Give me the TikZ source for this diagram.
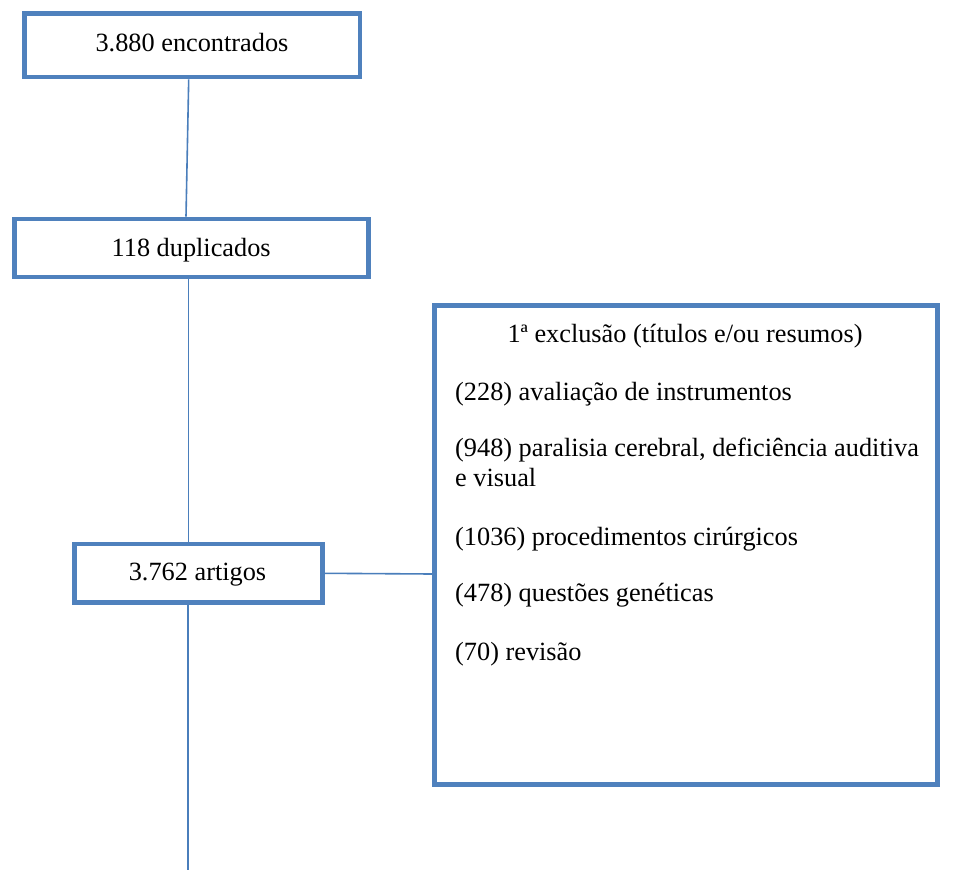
\documentclass[tikz,border=0pt]{standalone}
\usepackage{fontspec}
\setmainfont{Liberation Serif}
\definecolor{boxblue}{HTML}{4F81BD}
\definecolor{lineblue}{HTML}{4A7EBB}
\begin{document}
\begin{tikzpicture}[x=1pt,y=-1pt,
  flowbox/.style={draw=boxblue, line width=4.7pt, fill=white, inner sep=0pt, font=\fontsize{26.3}{30}\selectfont},
  conn/.style={draw=lineblue, line width=1.6pt},
  txt/.style={inner sep=0pt, font=\fontsize{26.3}{30}\selectfont}]
\useasboundingbox (0,0) rectangle (964,870);
\fill[white] (0,0) rectangle (964,870);
% boxes
\node[flowbox, minimum width=335.5pt, minimum height=63.3pt] (b1) at (192.3,45.3) {};
\node[flowbox, minimum width=354pt, minimum height=58pt] (b2) at (191.3,248) {};
\node[flowbox, minimum width=248.4pt, minimum height=58.7pt] (b3) at (198.5,573.3) {};
\node[flowbox, minimum width=503.4pt, minimum height=478.6pt] (big) at (686,545) {};
% texts
\node[txt, anchor=base] (t1) at (192,51.7) {3.880 encontrados};
\node[txt, anchor=base] (t2) at (191.2,256) {118 duplicados};
\node[txt, anchor=base] (t3) at (197.5,580.7) {3.762 artigos};
\node[txt, anchor=base] (h) at (685,342.7) {1ª exclusão (títulos e/ou resumos)};
\node[txt, anchor=base west] (e1) at (455,400) {(228) avaliação de instrumentos};
\node[txt, anchor=base west] (e2) at (455,456.7) {(948) paralisia cerebral, deficiência auditiva};
\node[txt, anchor=base west] (e2b) at (455,486.7) {e visual};
\node[txt, anchor=base west] (e3) at (455,545) {(1036) procedimentos cirúrgicos};
\node[txt, anchor=base west] (e4) at (455,601.7) {(478) questões genéticas};
\node[txt, anchor=base west] (e5) at (455,660) {(70) revisão};
% connectors
\coordinate (end) at (188,870);
\draw[conn] ([xshift=-3.6pt]b1.south) -- ([xshift=-5.3pt]b2.north);
\draw[conn] ([xshift=-3pt]b2.south) -- ([xshift=-10.2pt]b3.north);
\draw[conn] (b3.east) -- ([yshift=-29pt]big.west);
\draw[conn] ([xshift=-10.5pt]b3.south) -- (end);
\end{tikzpicture}
\end{document}
